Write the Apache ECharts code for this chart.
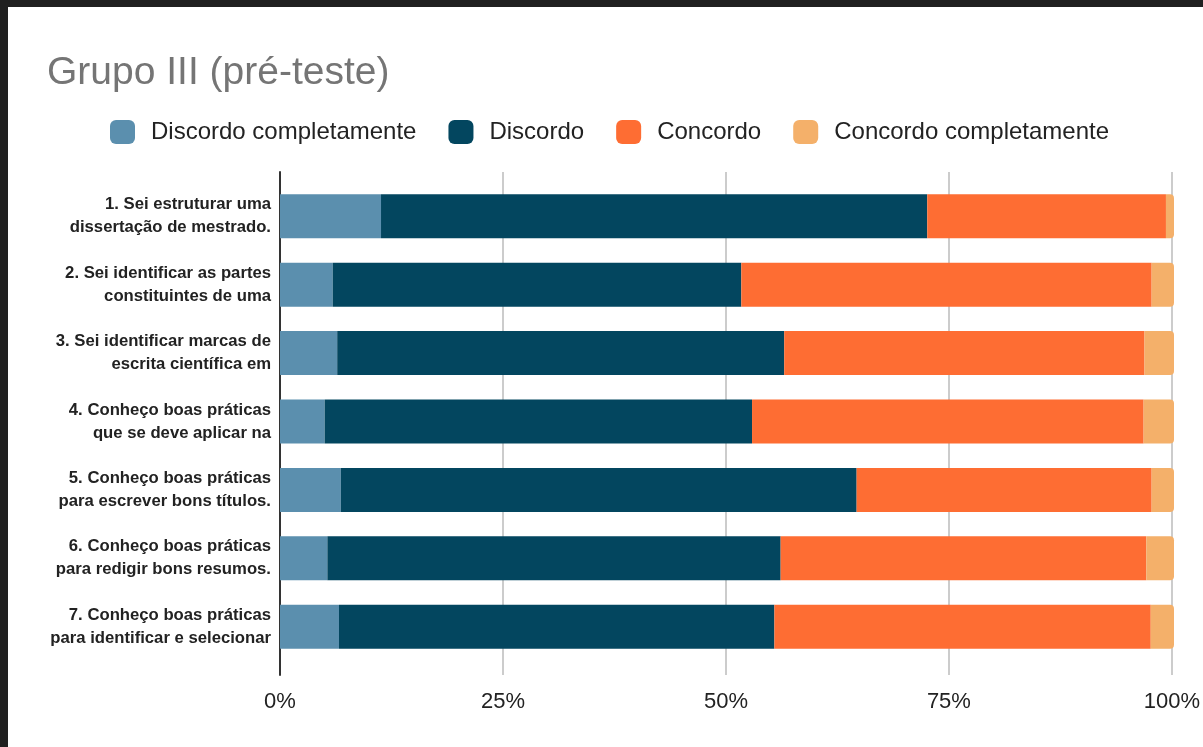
<!DOCTYPE html>
<html>
<head>
<meta charset="utf-8">
<script src="https://cdn.jsdelivr.net/npm/echarts@6/dist/echarts.min.js"></script>
<style>
html,body{margin:0;padding:0;background:#202020;width:1203px;height:747px;overflow:hidden;}
#c{position:absolute;left:8px;top:7px;width:1195px;height:740px;background:#ffffff;}
</style>
</head>
<body>
<div id="c"></div>
<script>
const categories = [
  "1. Sei estruturar uma\ndissertação de mestrado.",
  "2. Sei identificar as partes\nconstituintes de uma",
  "3. Sei identificar marcas de\nescrita científica em",
  "4. Conheço boas práticas\nque se deve aplicar na",
  "5. Conheço boas práticas\npara escrever bons títulos.",
  "6. Conheço boas práticas\npara redigir bons resumos.",
  "7. Conheço boas práticas\npara identificar e selecionar"
];
const seriesNames = ["Discordo completamente", "Discordo", "Concordo", "Concordo completamente"];
const discordoCompletamente = [11.3, 5.9, 6.4, 5.0, 6.8, 5.3, 6.6];
const discordo = [61.1, 45.7, 50.0, 47.8, 57.7, 50.7, 48.7];
const concordo = [26.7, 45.9, 40.3, 43.8, 33.0, 40.9, 42.1];
const concordoCompletamente = [0.9, 2.5, 3.3, 3.4, 2.5, 3.1, 2.6];
const xTicks = [0, 25, 50, 75, 100];
const colors = ["#5b8fae", "#03465f", "#fe6d33", "#f4b06a"];

const chart = echarts.init(document.getElementById('c'));
const values = [discordoCompletamente, discordo, concordo, concordoCompletamente];
const series = values.map((v, i) => ({
  name: seriesNames[i],
  type: 'bar',
  stack: 'total',
  xAxisIndex: 0,
  yAxisIndex: 0,
  barWidth: 44,
  data: v,
  itemStyle: { color: colors[i], borderRadius: i === 3 ? [0, 4, 4, 0] : 0 },
  z: 3
}));

chart.setOption({
  animation: false,
  title: {
    text: 'Grupo III (pré-teste)',
    left: 34, top: 42,
    textStyle: { fontFamily: 'Liberation Sans, Arial, sans-serif', fontSize: 39, fontWeight: 'normal', color: '#757575' }
  },
  legend: {
    data: seriesNames,
    left: 97,
    top: 108,
    itemWidth: 25, itemHeight: 24, itemGap: 32,
    icon: 'roundRect',
    textStyle: { fontFamily: 'Liberation Sans, Arial, sans-serif', fontSize: 24, color: '#222', padding: [0,0,0,11] }
  },
  grid: [
    { left: 272, right: 29, top: 175, bottom: 86, containLabel: false },
    { left: 272, right: 29, top: 165, bottom: 72, containLabel: false }
  ],
  xAxis: [
    { type: 'value', gridIndex: 0, min: 0, max: 100, show: false },
    { type: 'value', gridIndex: 1, min: xTicks[0], max: xTicks[xTicks.length-1], interval: 25,
      axisLine: { show: false }, axisTick: { show: false },
      splitLine: { show: true, lineStyle: { color: '#cccccc', width: 2 } },
      axisLabel: { formatter: '{value}%', fontFamily: 'Liberation Sans, Arial, sans-serif', fontSize: 22, color: '#222', margin: 16 } }
  ],
  yAxis: [
    { type: 'category', gridIndex: 0, data: categories, inverse: true,
      axisLine: { show: false }, axisTick: { show: false }, splitLine: { show: false },
      axisLabel: { fontFamily: 'Liberation Sans, Arial, sans-serif', fontSize: 16.7, fontWeight: 'bold', color: '#222', lineHeight: 23, margin: 9, align: 'right' } },
    { type: 'value', gridIndex: 1, min: 0, max: 1,
      axisLine: { show: true, lineStyle: { color: '#333', width: 2 } },
      axisTick: { show: false }, axisLabel: { show: false }, splitLine: { show: false } }
  ],
  series: series
});
</script>
</body>
</html>
